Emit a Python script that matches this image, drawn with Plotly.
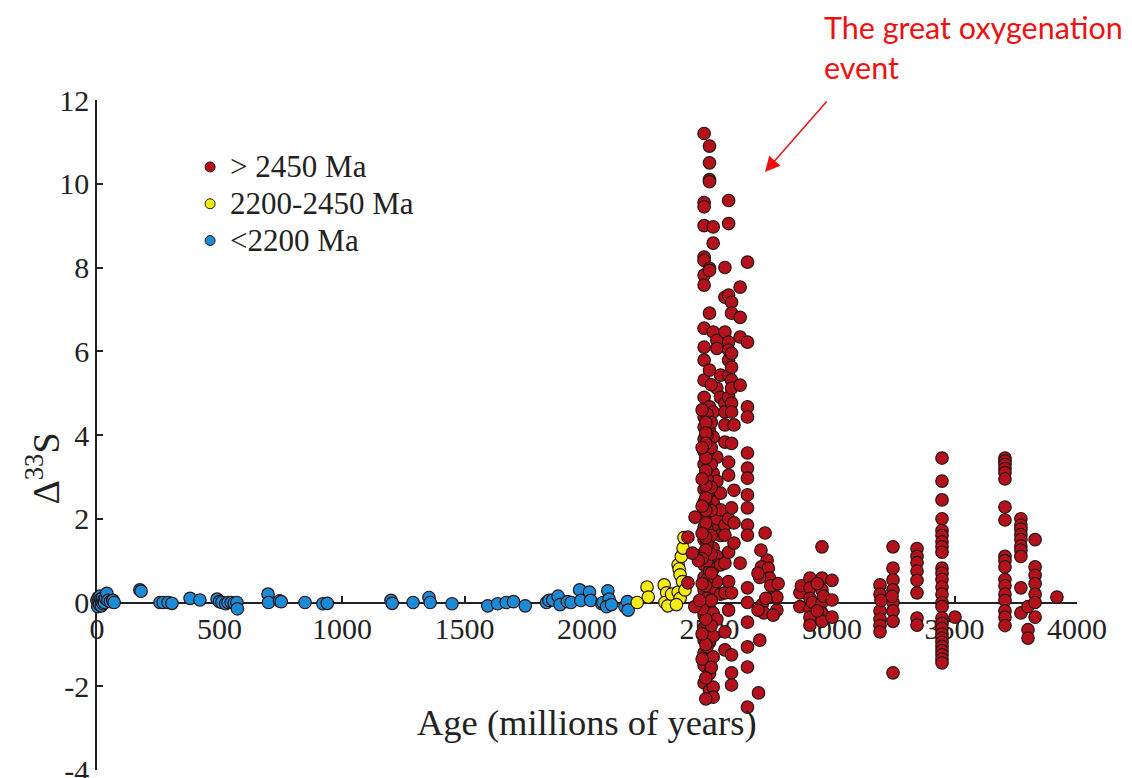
import plotly.graph_objects as go

# ---------------- data (Age in Ma, Delta33S) ----------------
blue_x = [0, 3, 5, 8, 10, 12, 15, 18, 20, 22, 25, 28, 30, 35, 40, 45, 55, 65, 70,
          175, 180, 257, 270, 290, 306, 380, 420, 490, 500, 510, 525, 535, 548, 560, 571, 573,
          698, 700, 745, 752, 849, 922, 940, 1200, 1205, 1290, 1355, 1360, 1449,
          1595, 1635, 1670, 1700, 1748, 1835, 1845, 1860, 1882, 1890, 1920, 1935,
          1970, 1975, 2010, 2015, 2060, 2065, 2085, 2090, 2080, 2100, 2155, 2165, 2168]
blue_y = [0.05, -0.1, 0.12, 0.0, -0.05, 0.15, 0.08, -0.08, 0.02, 0.1, -0.03, 0.06, 0.0, 0.1, 0.22, 0.05, 0.02, 0.05, 0.0,
          0.3, 0.27, 0.0, 0.0, 0.0, -0.02, 0.1, 0.06, 0.08, 0.02, 0.0, -0.03, 0.0, 0.0, -0.02, 0.0, -0.15,
          0.2, 0.0, 0.04, 0.02, 0.0, -0.03, -0.02, 0.05, -0.02, 0.0, 0.12, 0.0, -0.03,
          -0.08, -0.03, 0.0, 0.02, -0.08, 0.0, 0.05, 0.06, 0.15, -0.05, 0.02, 0.0,
          0.3, 0.05, 0.25, 0.05, -0.03, 0.0, 0.28, 0.08, -0.1, -0.05, -0.1, 0.02, -0.18]

yellow_x = [2205, 2245, 2250, 2315, 2325, 2318, 2330, 2345, 2372, 2376, 2380, 2372, 2380,
            2385, 2392, 2396, 2390, 2365, 2400]
yellow_y = [0.0, 0.37, 0.13, 0.42, 0.23, 0.0, -0.08, 0.2, 0.9, 0.8, 0.66, 0.25, 0.1,
            1.1, 1.3, 1.55, 0.5, -0.05, 0.3]

red_x = (
    [2478] * 35 + [2500] * 30 + [2515] * 16 + [2530] * 9 + [2545] * 7 + [2563] * 13 +
    [2578] * 14 + [2590] * 14 + [2600] * 4 + [2625] * 5 + [2655] * 17 +
    [2490] * 14 + [2507] * 12 + [2485] * 16 + [2470] * 10 +
    [2412, 2441, 2455, 2412, 2430, 2440, 2460] +
    [2727, 2735, 2710, 2712, 2740, 2745, 2760, 2775, 2775, 2705, 2715, 2722, 2730, 2750, 2760,
     2705, 2700, 2780, 2698, 2698] +
    [2869, 2869, 2875, 2910, 2910, 2910, 2910, 2910, 2910, 2920, 2959, 2959, 2959, 2959, 2959,
     2959, 2965, 3000, 3000, 3000, 2940, 2940] +
    [3196, 3196, 3196, 3196, 3196, 3196, 3200, 3249, 3249, 3249, 3249, 3249, 3249, 3249, 3249, 3245] +
    [3347] * 8 + [3449] * 27 + [3502] + [3706] * 18 + [3771] * 10 + [3800] * 3 + [3829] * 7 + [3918]
)
red_y = (
    [11.2, 9.55, 9.45, 9.0, 8.25, 8.17, 7.82, 7.58, 6.55, 6.1, 5.79, 5.31, 4.9, 4.43, 4.19, 3.9,
     3.6, 3.3, 3.0, 2.7, 2.4, 2.1, 1.8, 1.5, 1.2, 0.9, 0.6, 0.3, 0.0, -0.3, -0.6, -0.9, -1.2, -1.5, -1.92] +
    [10.9, 10.5, 10.1, 10.05, 7.98, 7.93, 6.91, 5.55, 4.67, 4.1, 3.75, 3.45, 3.15, 2.85, 2.55,
     2.25, 1.95, 1.65, 1.35, 1.05, 0.75, 0.45, 0.15, -0.15, -0.45, -0.66, -0.95, -1.35, -1.7, -2.1] +
    [8.97, 8.58, 6.46, 4.55, 3.95, 3.09, 2.4, 1.85, 1.3, 0.8, 0.35, -0.25, -0.8, -1.3, -2.02, -2.26] +
    [6.26, 6.07, 5.12, 3.47, 2.9, 2.0, 1.1, 0.5, -0.4] +
    [5.43, 4.9, 2.61, 2.21, 1.6, 0.9, 0.2] +
    [8.0, 7.29, 6.46, 4.76, 4.55, 4.24, 3.83, 1.85, 1.61, 0.94, 0.23, -0.7, -1.13] +
    [9.6, 9.05, 7.34, 6.22, 6.03, 5.79, 5.43, 4.9, 3.35, 3.04, 2.0, 1.2, 0.5, -0.18] +
    [7.17, 6.91, 5.95, 5.62, 5.31, 5.12, 4.76, 4.55, 3.8, 2.26, 0.23, -1.25, -1.68, -1.97] +
    [4.24, 2.68, 1.9, 1.42] +
    [7.53, 6.81, 6.34, 5.19, 0.94] +
    [8.13, 6.22, 4.67, 4.43, 3.57, 3.21, 2.97, 2.57, 2.26, 1.85, 1.61, 0.35, 0.0, -0.47, -1.06, -1.54, -2.5] +
    [4.5, 4.0, 3.55, 3.2, 2.95, 2.6, 2.3, 1.75, 1.4, 1.0, 0.55, 0.1, -0.5, -1.05] +
    [5.2, 4.3, 3.7, 3.3, 2.75, 2.2, 1.6, 1.15, 0.7, 0.05, -0.55, -1.55] +
    [4.3, 4.05, 3.8, 3.45, 3.15, 2.8, 2.5, 2.2, 1.9, 1.55, 1.25, 0.4, -0.4, -1.0, -1.8, -2.3] +
    [4.6, 3.7, 2.95, 2.3, 1.65, 1.05, 0.45, -0.15, -0.75, -1.35] +
    [1.56, 2.04, 1.0, 0.47, 1.18, -0.1, 0.05] +
    [1.66, 1.01, 1.25, 0.85, 0.82, 0.58, 0.35, 0.13, -0.18, 0.6, -0.05, -0.25, 0.1, 0.4, -0.3,
     -0.9, -2.16, 0.45, -0.18, 0.7] +
    [0.23, -0.1, 0.4, 0.58, 0.35, 0.1, -0.15, -0.35, -0.54, 0.0, 1.33, 0.58, 0.3, 0.0, -0.25,
     -0.45, 0.15, 0.53, 0.06, -0.35, 0.45, -0.2] +
    [0.42, 0.2, -0.2, -0.4, -0.55, -0.7, 0.05, 1.33, 0.82, 0.54, 0.3, 0.0, -0.2, -0.45, -1.68, 0.15] +
    [1.29, 1.1, 0.95, 0.75, 0.53, 0.23, -0.37, -0.54] +
    [3.45, 2.9, 2.45, 2.0, 1.72, 1.6, 1.45, 1.33, 1.2, 0.82, 0.7, 0.55, 0.37, 0.2, 0.0, -0.1,
     -0.37, -0.5, -0.62, -0.75, -0.85, -0.95, -1.05, -1.15, -1.25, -1.35, -1.44] +
    [-0.35] +
    [3.45, 3.38, 3.3, 3.2, 3.1, 2.95, 2.28, 1.97, 1.1, 1.0, 0.85, 0.55, 0.4, 0.2, 0.05, -0.2, -0.35, -0.55] +
    [2.0, 1.85, 1.75, 1.62, 1.5, 1.35, 1.25, 1.1, 0.35, -0.25] +
    [-0.1, -0.65, -0.85] +
    [1.5, 0.85, 0.65, 0.45, 0.2, 0.0, -0.35] +
    [0.13]
)

legend_names = ["> 2450 Ma", "2200-2450 Ma", "<2200 Ma"]
x_ticks = [0, 500, 1000, 1500, 2000, 2500, 3000, 3500, 4000]
y_ticks = [-4, -2, 0, 2, 4, 6, 8, 10, 12]

RED = "#b3121c"
YELLOW = "#f2ec16"
BLUE = "#1b8bd6"
EDGE = "#2b1414"
SERIF = "Liberation Serif"

fig = go.Figure()
for xs, ys, col in [(blue_x, blue_y, BLUE), (yellow_x, yellow_y, YELLOW), (red_x, red_y, RED)]:
    fig.add_trace(go.Scatter(x=xs, y=ys, mode="markers", showlegend=False, cliponaxis=False,
                             marker=dict(size=12.5, color=col, line=dict(color=EDGE, width=1.2))))
for name, col in zip(legend_names, [RED, YELLOW, BLUE]):
    fig.add_trace(go.Scatter(x=[None], y=[None], mode="markers",
                             name='<span style="font-size:31px">' + name + "</span>",
                             marker=dict(size=10, color=col, line=dict(color=EDGE, width=1))))

fig.update_layout(
    width=1132, height=778,
    margin=dict(l=97, r=55, t=100, b=8, autoexpand=False),
    paper_bgcolor="white", plot_bgcolor="white",
    font=dict(family=SERIF, size=30, color="#222222"),
    showlegend=True,
    legend=dict(x=0.095, y=0.935, xanchor="left", yanchor="top", bgcolor="rgba(0,0,0,0)",
                font=dict(family=SERIF, size=26, color="#222222"), itemsizing="trace"),
    xaxis=dict(range=[0, 4000], tickvals=x_ticks, ticktext=[str(v) for v in x_ticks],
               anchor="free", position=0.25, showline=True, linecolor="#222222", linewidth=1.5,
               ticks="inside", ticklen=6, tickwidth=1.5, tickcolor="#222222",
               showgrid=False, zeroline=False, layer="below traces", automargin=False,
               tickfont=dict(family=SERIF, size=30, color="#222222")),
    yaxis=dict(range=[-4, 12], tickvals=y_ticks, ticktext=[str(v) for v in y_ticks],
               showline=True, linecolor="#222222", linewidth=1.5,
               ticks="inside", ticklen=6, tickwidth=1.5, tickcolor="#222222",
               showgrid=False, zeroline=False, layer="below traces",
               ticklabeloverflow="allow", automargin=False,
               tickfont=dict(family=SERIF, size=30, color="#222222")),
    annotations=[
        dict(text="Age (millions of years)", xref="paper", yref="paper", x=0.5, y=0.0716,
             showarrow=False, font=dict(family=SERIF, size=36.5, color="#222222"),
             xanchor="center", yanchor="middle"),
        dict(text="Δ<sup>33</sup>S", xref="paper", yref="paper", x=-0.056, y=0.45,
             showarrow=False, textangle=-90, font=dict(family=SERIF, size=38, color="#222222"),
             xanchor="center", yanchor="middle"),
        dict(text="The great oxygenation<br>event", xref="paper", yref="paper",
             x=(822 - 97) / 980, y=(770 - 7) / 670, xanchor="left", yanchor="top",
             align="left", showarrow=False, font=dict(family="Lato", size=30.5, color="#ee1111")),
        dict(text="", xref="paper", yref="paper", x=(765 - 97) / 980, y=(770 - 172) / 670,
             showarrow=True, ax=63, ay=-72, arrowcolor="#ee1111", arrowwidth=1.5,
             arrowhead=2, arrowsize=2),
    ],
)

fig.write_html("out.html")
